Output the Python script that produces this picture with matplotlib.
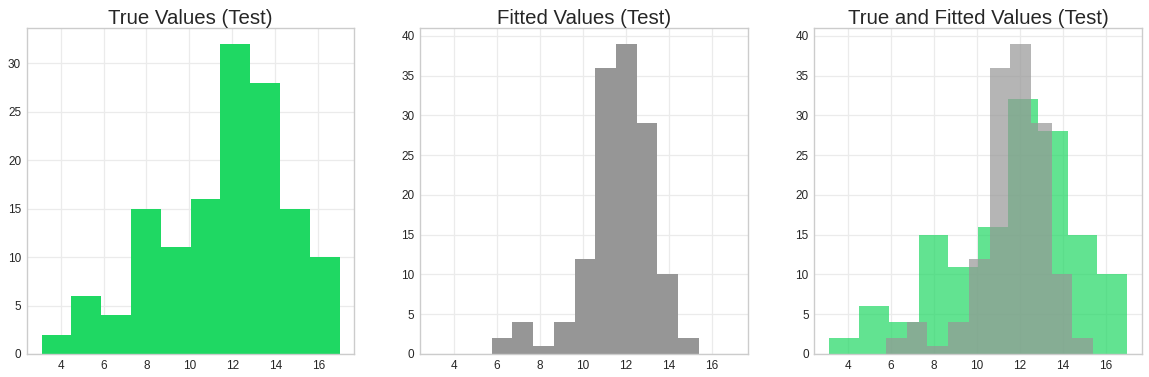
import numpy as np
import matplotlib
matplotlib.use("Agg")
import matplotlib.pyplot as plt

# histogram counts (10 bins each)
true_counts = [2, 6, 4, 15, 11, 16, 32, 28, 15, 10]
true_range = (3.115, 16.99)
fitted_counts = [2, 4, 1, 4, 12, 36, 39, 29, 10, 2]
fitted_range = (5.76, 15.41)

titles = ["True Values (Test)", "Fitted Values (Test)", "True and Fitted Values (Test)"]
x_ticks = [4, 6, 8, 10, 12, 14, 16]

GREEN = "#1fd863"
GRAY = "#969696"

plt.rcParams["font.family"] = ["Liberation Sans", "DejaVu Sans"]


def _edges(rng, n):
    return np.linspace(rng[0], rng[1], n + 1)


def _hist(ax, counts, rng, color, alpha=1.0):
    edges = _edges(rng, len(counts))
    centers = (edges[:-1] + edges[1:]) / 2
    ax.hist(centers, bins=edges, weights=counts, color=color, alpha=alpha,
            histtype="bar", rwidth=1.0, linewidth=0)


def _style(ax, title):
    ax.set_facecolor("white")
    ax.grid(True, color="#ebebeb", linewidth=0.9)
    ax.set_axisbelow(True)
    for s in ax.spines.values():
        s.set_color("#cccccc")
        s.set_linewidth(1.0)
    ax.tick_params(length=0, labelsize=8.5, labelcolor="#262626", pad=4.0)
    ax.set_xticks(x_ticks)
    ax.set_title(title, fontsize=14.7, color="#262626", pad=3.0)


fig = plt.figure(figsize=(11.49, 3.77), dpi=100)
W, H = 1149, 377
lefts = [26.7, 420.0, 814.3]
width = 327.7
top, bottom = 28.3, 354.0
axes = [fig.add_axes([l / W, (H - bottom) / H, width / W, (bottom - top) / H]) for l in lefts]

_hist(axes[0], true_counts, true_range, GREEN)
_hist(axes[1], fitted_counts, fitted_range, GRAY)
_hist(axes[2], true_counts, true_range, GREEN, alpha=0.7)
_hist(axes[2], fitted_counts, fitted_range, GRAY, alpha=0.7)

xlo, xhi = axes[0].get_xlim()
for ax, t in zip(axes, titles):
    ax.set_xlim(xlo, xhi)
    _style(ax, t)

axes[0].set_ylim(0, max(true_counts) * 1.05)
axes[1].set_ylim(0, max(fitted_counts) * 1.05)
axes[2].set_ylim(0, max(fitted_counts) * 1.05)

fig.savefig("out.png", dpi=100)
plt.close(fig)
